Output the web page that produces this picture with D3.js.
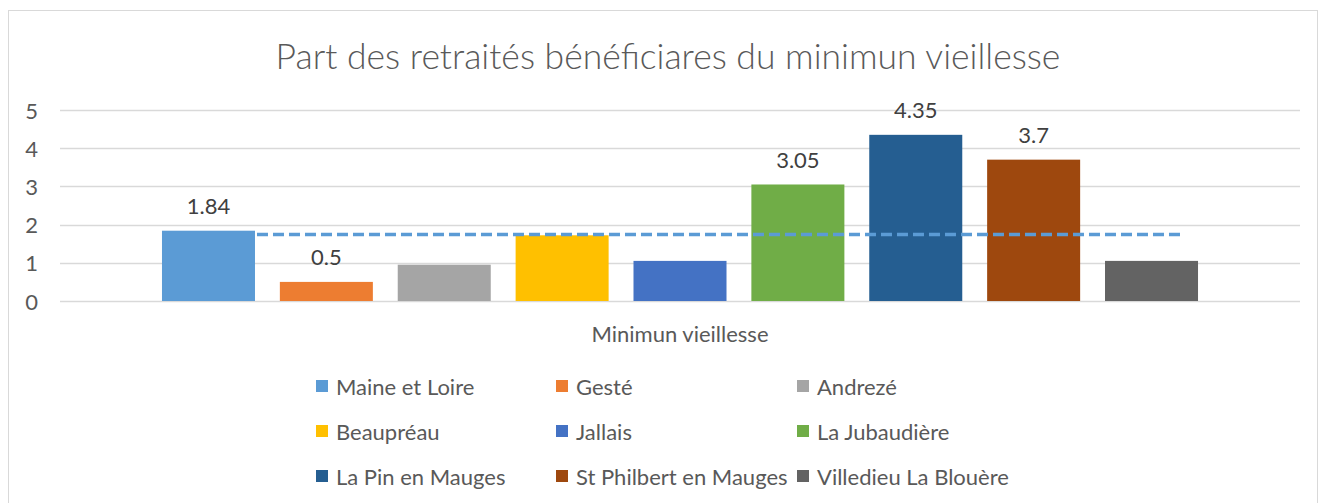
<!DOCTYPE html>
<html>
<head>
<meta charset="utf-8">
<script src="https://cdn.jsdelivr.net/npm/d3@7"></script>
<style>
  body { margin: 0; background: #fff; }
  svg { display: block; font-family: Lato, "Open Sans", sans-serif; }
</style>
</head>
<body>
<div id="chart"></div>
<script>
const width = 1319
const height = 503

// data
const category = "Minimun vieillesse"
const series = ["Maine et Loire", "Gesté", "Andrezé", "Beaupréau", "Jallais",
  "La Jubaudière", "La Pin en Mauges", "St Philbert en Mauges", "Villedieu La Blouère"]
const values = [1.84, 0.5, 0.95, 1.72, 1.05, 3.05, 4.35, 3.7, 1.05]
const showLabel = [true, true, false, false, false, true, true, true, false]
const colors = ["#5B9BD5", "#ED7D31", "#A5A5A5", "#FFC000", "#4472C4",
  "#70AD47", "#255E91", "#9E480E", "#636363"]
const yTicks = [0, 1, 2, 3, 4, 5]
const refValue = 1.74
const title = "Part des retraités bénéficiares du minimun vieillesse"

const textColor = "#595959"
const gridColor = "#D9D9D9"
const fs = "22px"

const svg = d3.select("#chart").append("svg")
  .attr("width", width)
  .attr("height", height)

// chart frame
svg.append("rect")
  .attr("x", 8.5).attr("y", 10.5)
  .attr("width", 1309).attr("height", 520)
  .attr("fill", "#fff")
  .attr("stroke", gridColor)

svg.append("text")
  .attr("x", 668).attr("y", 55)
  .attr("text-anchor", "middle")
  .attr("dominant-baseline", "central")
  .attr("fill", textColor)
  .style("font-size", "35.5px")
  .style("font-weight", 300)
  .text(title)

const plotLeft = 60, plotRight = 1300

const y = d3.scaleLinear().domain([0, 5]).range([301, 110])

const x0 = d3.scaleBand().domain([category]).range([plotLeft, plotRight]).paddingOuter(0.0844)
const x1 = d3.scaleBand().domain(series).range([0, x0.bandwidth()])
  .paddingInner(0.211).paddingOuter(0.1055)

// gridlines
svg.append("g")
  .selectAll("line")
  .data(yTicks)
  .join("line")
  .attr("x1", plotLeft).attr("x2", plotRight)
  .attr("y1", d => Math.round(y(d)) + 0.5)
  .attr("y2", d => Math.round(y(d)) + 0.5)
  .attr("stroke", gridColor)
  .attr("stroke-width", 1.5)

// y labels
svg.append("g")
  .selectAll("text")
  .data(yTicks)
  .join("text")
  .attr("x", 38)
  .attr("y", d => y(d))
  .attr("text-anchor", "end")
  .attr("dominant-baseline", "central")
  .attr("fill", textColor)
  .style("font-size", fs)
  .text(d => d)

const g = svg.append("g").attr("transform", `translate(${x0(category)},0)`)

g.selectAll("rect")
  .data(series)
  .join("rect")
  .attr("x", d => x1(d))
  .attr("width", x1.bandwidth())
  .attr("y", (d, i) => y(values[i]))
  .attr("height", (d, i) => y(0) - y(values[i]))
  .attr("fill", (d, i) => colors[i])

g.selectAll("text.lbl")
  .data(series.filter((d, i) => showLabel[i]))
  .join("text")
  .attr("class", "lbl")
  .attr("x", d => x1(d) + x1.bandwidth() / 2)
  .attr("y", d => y(values[series.indexOf(d)]) - 25)
  .attr("text-anchor", "middle")
  .attr("dominant-baseline", "central")
  .attr("fill", "#404040")
  .style("font-size", fs)
  .text(d => values[series.indexOf(d)])

// dashed reference line
g.append("line")
  .attr("x1", x1(series[0]) + x1.bandwidth() + 2)
  .attr("x2", x1(series[8]) + x1.bandwidth() * 0.82)
  .attr("y1", y(refValue)).attr("y2", y(refValue))
  .attr("stroke", "#5B9BD5")
  .attr("stroke-width", 3.5)
  .attr("stroke-dasharray", "11,5")

// category label
svg.append("text")
  .attr("x", x0(category) + x0.bandwidth() / 2)
  .attr("y", 333)
  .attr("text-anchor", "middle")
  .attr("dominant-baseline", "central")
  .attr("fill", textColor)
  .style("font-size", fs)
  .text(category)

// legend
const colX = [336, 576, 817]
const rowY = [386, 431, 476]
const leg = svg.append("g")
  .selectAll("g")
  .data(series)
  .join("g")
  .attr("transform", (d, i) => `translate(${colX[i % 3]},${rowY[Math.floor(i / 3)]})`)

leg.append("rect")
  .attr("x", -20).attr("y", -6)
  .attr("width", 12).attr("height", 12)
  .attr("fill", (d, i) => colors[i])

leg.append("text")
  .attr("x", 0).attr("y", 0)
  .attr("dominant-baseline", "central")
  .attr("fill", textColor)
  .style("font-size", fs)
  .text(d => d)
</script>
</body>
</html>
